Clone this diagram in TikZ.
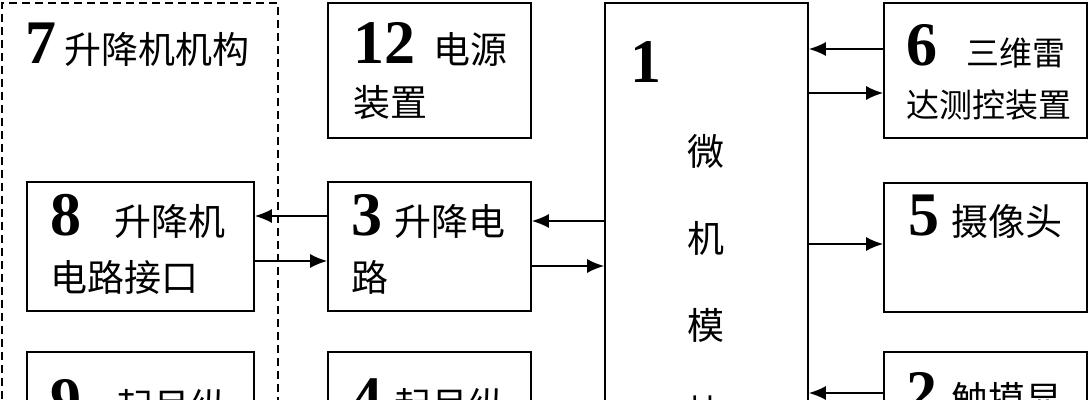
\documentclass[tikz,border=0pt]{standalone}
\usepackage{fontspec}
\setmainfont{Liberation Serif}
\newfontfamily\cjk{Noto Sans CJK SC}
\usetikzlibrary{arrows.meta}
\newcommand{\dnum}[1]{{\normalfont\fontsize{31}{31}\selectfont\bfseries #1}}

\begin{document}
\begin{tikzpicture}[x=0.5pt, y=-0.5pt,
    blk/.style={draw, line width=0.9pt, minimum width=101.5pt, minimum height=64.5pt, inner sep=0pt},
    txt/.style={anchor=base west, align=left, inner sep=0pt, font=\cjk\fontsize{18.5}{27}\selectfont},
    arr/.style={-{Latex[length=8.5pt,width=7pt]}, line width=0.75pt}]
    \useasboundingbox (0,0) rectangle (1090,400);
    \clip (0,0) rectangle (1090,400);
    % blocks
    \node[draw, dash pattern=on 4pt off 2.5pt, line width=0.8pt, minimum width=138pt, minimum height=297pt] (b7) at (140,300) {};
    \node[blk, minimum height=67.5pt] (b12) at (429.5,70.5) {};
    \node[blk, minimum width=113.5pt] (b8) at (140.5,246.5) {};
    \node[blk] (b3) at (429.5,246.5) {};
    \node[blk, minimum width=113.5pt] (b9) at (140.5,416.5) {};
    \node[blk] (b4) at (429.5,416.5) {};
    \node[blk, minimum height=297pt] (b1) at (706.5,300) {};
    \node[blk, minimum height=67.5pt] (b6) at (985.5,70.5) {};
    \node[blk] (b5) at (985.5,247.5) {};
    \node[blk] (b2) at (985.5,416.5) {};
    % texts (multi-line ones sit on their last baseline)
    \node[txt] (t7) at (25,64) {\dnum{7}\hspace{4pt}升降机机构};
    \node[txt, font=\cjk\fontsize{18.5}{26.5}\selectfont] (t12) at (353,117) {\dnum{12}\hspace{9pt}电源\\装置};
    \node[txt, font=\cjk\fontsize{18.5}{28}\selectfont] (t8) at (50,292) {\dnum{8}\hspace{16.5pt}升降机\\电路接口};
    \node[txt, font=\cjk\fontsize{18.5}{28}\selectfont] (t3) at (351,292) {\dnum{3}\hspace{6pt}升降电\\路};
    \node[txt] (t9) at (50,420) {\dnum{9}\hspace{17.5pt}起吊纵};
    \node[txt] (t4) at (351,419) {\dnum{4}\hspace{6pt}起吊纵};
    \node[txt] (t1) at (630,83) {\dnum{1}};
    \node[txt, anchor=base, align=center, font=\cjk\fontsize{18.5}{43.5}\selectfont] (t1b) at (706,426) {微\\机\\模\\块};
    \node[txt, font=\cjk\fontsize{16.5}{26}\selectfont] (t6) at (906,118) {\dnum{6}\hspace{14.5pt}三维雷\\达测控装置};
    \node[txt] (t5) at (908,236) {\dnum{5}\hspace{6pt}摄像头};
    \node[txt] (t2) at (906,413) {\dnum{2}\hspace{7pt}触摸显};
    % connectors
    \draw[arr] (b3.west |- 0,216) -- (b8.east |- 0,216);
    \draw[arr] (b8.east |- 0,261) -- (b3.west |- 0,261);
    \draw[arr] (b1.west |- 0,221) -- (b3.east |- 0,221);
    \draw[arr] (b3.east |- 0,266) -- (b1.west |- 0,266);
    \draw[arr] (b6.west |- 0,49) -- (b1.east |- 0,49);
    \draw[arr] (b1.east |- 0,93) -- (b6.west |- 0,93);
    \draw[arr] (b1.east |- 0,244) -- (b5.west |- 0,244);
    \draw[arr] (b2.west |- 0,393) -- (b1.east |- 0,393);
\end{tikzpicture}
\end{document}
